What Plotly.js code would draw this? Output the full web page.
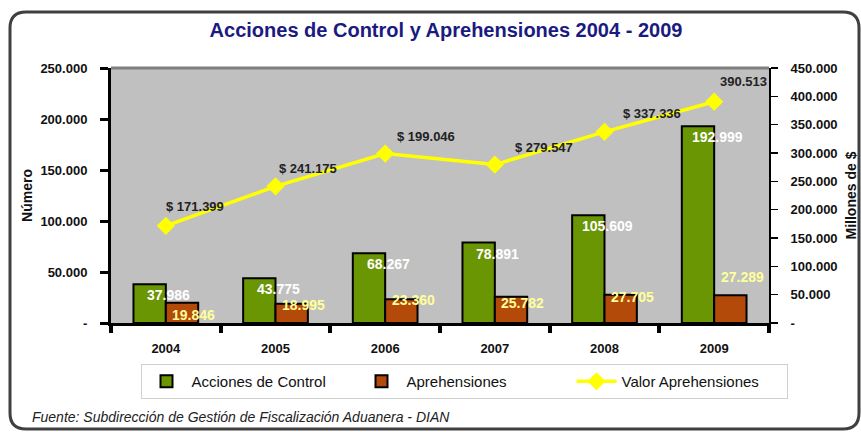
<!DOCTYPE html>
<html>
<head>
<meta charset="utf-8">
<script src="https://cdn.plot.ly/plotly-3.0.1.min.js"></script>
<style>
  html, body { margin: 0; padding: 0; background: #ffffff; }
  #chart { width: 861px; height: 432px; }
</style>
</head>
<body>
<div id="chart"></div>
<script>
// ---- Data ----
var years = ["2004", "2005", "2006", "2007", "2008", "2009"];
var acciones = [37986, 43775, 68267, 78891, 105609, 192999];
var aprehensiones = [19846, 18995, 23360, 25782, 27705, 27289];
var valorAprehensiones = [171399, 241175, 299046, 279547, 337336, 390513];
var valorLabels = ["$ 171.399", "$ 241.175", "$ 199.046", "$ 279.547", "$ 337.336", "390.513"];

var leftTickVals = [0, 50000, 100000, 150000, 200000, 250000];
var leftTickText = ["-", "50.000", "100.000", "150.000", "200.000", "250.000"];
var rightTickVals = [0, 50000, 100000, 150000, 200000, 250000, 300000, 350000, 400000, 450000];
var rightTickText = ["-", "50.000", "100.000", "150.000", "200.000", "250.000", "300.000", "350.000", "400.000", "450.000"];

// ---- Layout helpers (pixel geometry of the plot area) ----
var W = 861, H = 432;
var L = 111, R = 769, T = 68, B = 323;
function px(p) { return (p - L) / (R - L); }
function py(p) { return (B - p) / (B - T); }
function fmt(v) { return v.toLocaleString('de-DE'); }

var FONT = "Liberation Sans, Arial, sans-serif";

var traces = [
  {
    type: "bar", name: "Acciones de Control", x: years, y: acciones,
    marker: { color: "#6a9604", line: { color: "#000000", width: 2 } },
    hoverinfo: "skip"
  },
  {
    type: "bar", name: "Aprehensiones", x: years, y: aprehensiones,
    marker: { color: "#b44a0a", line: { color: "#000000", width: 2 } },
    hoverinfo: "skip"
  },
  {
    type: "scatter", mode: "lines+markers", name: "Valor Aprehensiones",
    x: years, y: valorAprehensiones, yaxis: "y2",
    line: { color: "#ffff00", width: 3.5 },
    marker: { symbol: "diamond", size: 14, color: "#ffff00" },
    hoverinfo: "skip"
  }
];

// label offsets (style only)
var aprYShift = [-12, -1, -1, -6, -2, 18];
var valXShift = [-2, 1, 10, 18, 16, 4];
var valYShift = [19, 18, 17, 17, 18, 20];

var annotations = [];
years.forEach(function (yr, i) {
  annotations.push({
    x: i, y: acciones[i], xref: "x", yref: "y",
    text: fmt(acciones[i]), showarrow: false,
    xanchor: "center", yanchor: "top", xshift: 3, yshift: -1,
    font: { family: FONT, size: 14, color: "#ffffff", weight: "bold" }
  });
  annotations.push({
    x: i, y: aprehensiones[i], xref: "x", yref: "y",
    text: fmt(aprehensiones[i]), showarrow: false,
    xanchor: "center", yanchor: "middle", xshift: 28, yshift: aprYShift[i],
    font: { family: FONT, size: 14, color: "#ffff99", weight: "bold" }
  });
  annotations.push({
    x: i, y: valorAprehensiones[i], xref: "x", yref: "y2",
    text: valorLabels[i], showarrow: false,
    xanchor: "left", yanchor: "middle", xshift: valXShift[i], yshift: valYShift[i],
    font: { family: FONT, size: 13, color: "#222222", weight: "bold" }
  });
});

annotations.push({
  xref: "paper", yref: "paper", x: px(30), y: py(417),
  xanchor: "left", yanchor: "middle", showarrow: false,
  text: "<i>Fuente: Subdirección de Gestión de Fiscalización Aduanera - DIAN</i>",
  font: { family: FONT, size: 14, color: "#222222" }
});

// rounded outer frame
var fx0 = px(10), fx1 = px(859), fy0 = py(12), fy1 = py(429);
var rx = 16 / (R - L), ry = 16 / (B - T);
var framePath =
  "M " + (fx0 + rx) + "," + fy0 +
  " L " + (fx1 - rx) + "," + fy0 +
  " Q " + fx1 + "," + fy0 + " " + fx1 + "," + (fy0 - ry) +
  " L " + fx1 + "," + (fy1 + ry) +
  " Q " + fx1 + "," + fy1 + " " + (fx1 - rx) + "," + fy1 +
  " L " + (fx0 + rx) + "," + fy1 +
  " Q " + fx0 + "," + fy1 + " " + fx0 + "," + (fy1 + ry) +
  " L " + fx0 + "," + (fy0 - ry) +
  " Q " + fx0 + "," + fy0 + " " + (fx0 + rx) + "," + fy0 + " Z";

var layout = {
  width: W, height: H,
  margin: { l: L, r: W - R, t: T, b: H - B, pad: 0 },
  paper_bgcolor: "#ffffff",
  plot_bgcolor: "#c0c0c0",
  font: { family: FONT, color: "#111111" },
  showlegend: true,
  barmode: "group",
  bargap: 0.41,
  bargroupgap: 0,
  title: {
    text: "Acciones de Control y Aprehensiones 2004 - 2009",
    x: 446 / W, xanchor: "center", y: 1 - 30 / H, yanchor: "middle",
    font: { family: FONT, size: 20, color: "#1a1a80", weight: "bold" }
  },
  xaxis: {
    type: "category",
    categoryarray: years, categoryorder: "array",
    range: [-0.5, 5.5], autorange: false,
    showgrid: false, zeroline: false,
    showline: true, linecolor: "#000000", linewidth: 3,
    ticks: "outside", tickson: "boundaries", ticklen: 7, tickwidth: 4, tickcolor: "#000000",
    ticklabelstandoff: 11,
    tickfont: { family: FONT, size: 13, color: "#111111", weight: "bold" }
  },
  yaxis: {
    range: [0, 250000], autorange: false,
    tickvals: leftTickVals, ticktext: leftTickText,
    showgrid: false, zeroline: false,
    showline: true, linecolor: "#000000", linewidth: 3,
    ticks: "outside", ticklen: 8, tickwidth: 3, tickcolor: "#000000",
    ticklabelstandoff: 10,
    tickfont: { family: FONT, size: 13, color: "#111111", weight: "bold" },
    title: { text: "Número", standoff: 5, font: { family: FONT, size: 14, color: "#111111", weight: "bold" } }
  },
  yaxis2: {
    overlaying: "y", side: "right",
    range: [0, 450000], autorange: false,
    tickvals: rightTickVals, ticktext: rightTickText,
    showgrid: false, zeroline: false,
    showline: true, linecolor: "#000000", linewidth: 2,
    ticks: "outside", ticklen: 7, tickwidth: 1.5, tickcolor: "#000000",
    ticklabelstandoff: 10,
    tickfont: { family: FONT, size: 13, color: "#111111", weight: "bold" },
    title: { text: "Millones de $", standoff: 10, font: { family: FONT, size: 14, color: "#111111", weight: "bold" } }
  },
  legend: {
    orientation: "h",
    x: px(464), xanchor: "center",
    y: py(364), yanchor: "top",
    bgcolor: "#ffffff", bordercolor: "#d0d0d0", borderwidth: 1,
    font: { family: FONT, size: 15, color: "#111111" },
    itemwidth: 40,
    entrywidth: 160, entrywidthmode: "pixels",
    traceorder: "normal"
  },
  shapes: [
    { type: "line", xref: "paper", yref: "paper", x0: 0, x1: 1, y0: 1, y1: 1,
      line: { color: "#7f7f7f", width: 3 } },
    { type: "path", xref: "paper", yref: "paper", path: framePath,
      line: { color: "#404040", width: 3 }, fillcolor: "rgba(0,0,0,0)", layer: "above" }
  ],
  annotations: annotations
};

Plotly.newPlot("chart", traces, layout, { displayModeBar: false, staticPlot: true });
</script>
</body>
</html>
